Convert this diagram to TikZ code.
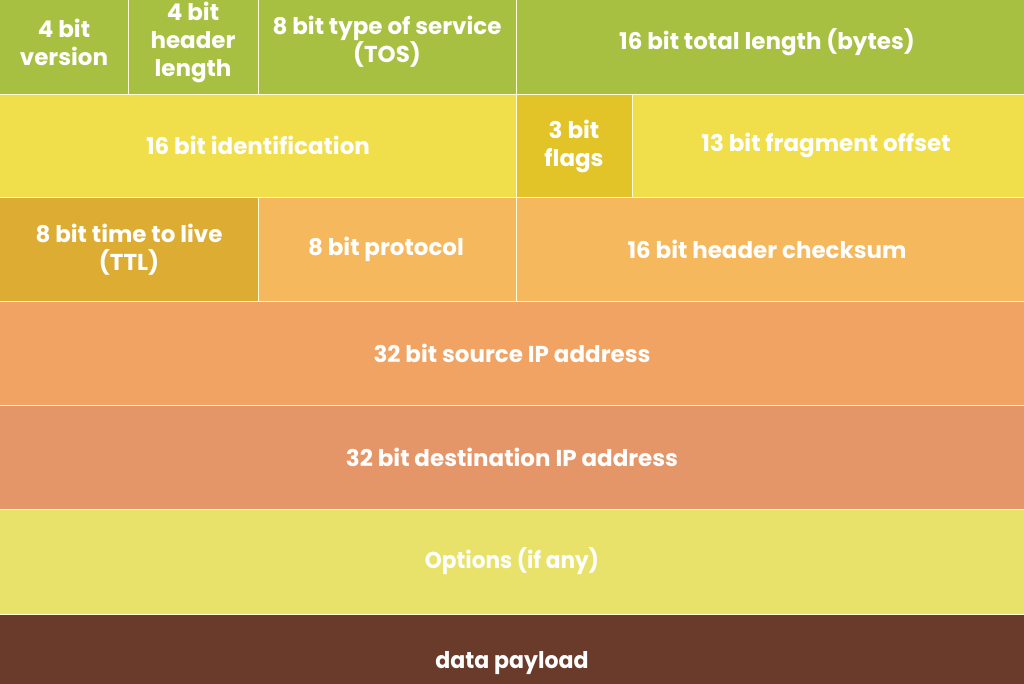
\documentclass[tikz,border=0pt]{standalone}
\usepackage{fontspec}
\setmainfont{Poppins}
\definecolor{cgreen}{RGB}{168,192,66}
\definecolor{cyellow}{RGB}{240,222,74}
\definecolor{cflags}{RGB}{226,196,40}
\definecolor{cttl}{RGB}{221,172,50}
\definecolor{cproto}{RGB}{246,184,92}
\definecolor{csrc}{RGB}{240,163,98}
\definecolor{cdst}{RGB}{229,150,104}
\definecolor{copt}{RGB}{233,226,106}
\definecolor{cdata}{RGB}{106,58,42}
\tikzset{
  cellbox/.style={draw=white!85!yellow, line width=1.5pt},
  lbl/.style={text=white, font=\bfseries\fontsize{23}{28}\selectfont, align=center, inner sep=0pt},
  nlbl/.style={text=white, font=\bfseries\fontsize{23}{28}\selectfont, align=center, inner sep=0pt}
}
\begin{document}
\begin{tikzpicture}[x=1pt,y=-1pt]
\useasboundingbox (0,0) rectangle (1024,683);
% row 1
\fill[cgreen] (0,-10) rectangle (1024,94.5);
\draw[cellbox] (128.5,-10) -- (128.5,94.5) (258.5,-10) -- (258.5,94.5) (516.5,-10) -- (516.5,94.5);
% row 2
\fill[cyellow] (0,94.5) rectangle (1024,197.5);
\fill[cflags] (516.5,94.5) rectangle (632.5,197.5);
\draw[cellbox] (516.5,94.5) -- (516.5,197.5) (632.5,94.5) -- (632.5,197.5);
% row 3
\fill[cproto] (0,197.5) rectangle (1024,301.5);
\fill[cttl] (0,197.5) rectangle (258.5,301.5);
\draw[cellbox] (258.5,197.5) -- (258.5,301.5) (516.5,197.5) -- (516.5,301.5);
% rows 4-7
\fill[csrc] (0,301.5) rectangle (1024,405.5);
\fill[cdst] (0,405.5) rectangle (1024,509.5);
\fill[copt] (0,509.5) rectangle (1024,614.5);
\fill[cdata] (0,614.5) rectangle (1024,700);
\draw[cellbox] (0,94.5) -- (1024,94.5) (0,197.5) -- (1024,197.5) (0,301.5) -- (1024,301.5)
  (0,405.5) -- (1024,405.5) (0,509.5) -- (1024,509.5) (0,614.5) -- (1024,614.5);
% labels
\node[lbl] (ver) at (64,42) {4 bit\\version};
\node[lbl] (ihl) at (193,42) {4 bit\\header\\length};
\node[lbl] (tos) at (387,42) {8 bit type of service\\(TOS)};
\node[lbl] (len) at (767,42) {16 bit total length (bytes)};
\node[lbl] (id) at (258,145) {16 bit identification};
\node[lbl] (flg) at (574,146) {3 bit\\flags};
\node[lbl] (frag) at (826,145) {13 bit fragment offset};
\node[lbl] (ttl) at (129,250) {8 bit time to live\\(TTL)};
\node[lbl] (proto) at (386,249) {8 bit protocol};
\node[lbl] (csum) at (767,249) {16 bit header checksum};
\node[lbl] (src) at (512,353) {32 bit source IP address};
\node[lbl] (dst) at (512,457) {32 bit destination IP address};
\node[nlbl] (opt) at (512,561) {\scalebox{0.94}[1]{Options (if any)}};
\node[nlbl] (pay) at (512,663) {\scalebox{0.96}[1]{data payload}};
\end{tikzpicture}
\end{document}
